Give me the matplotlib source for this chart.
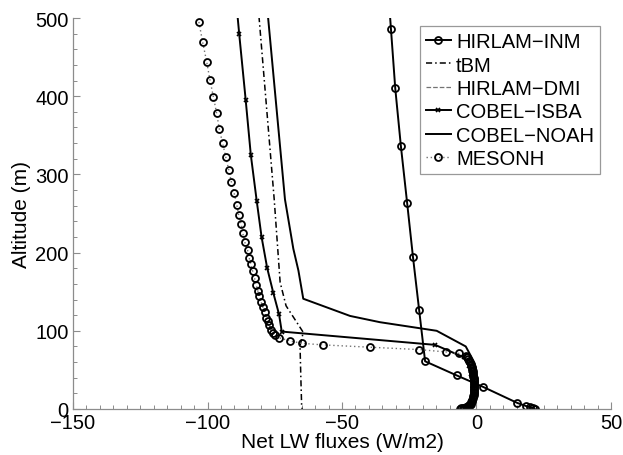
import matplotlib
matplotlib.use("Agg")
import matplotlib.pyplot as plt
from matplotlib.ticker import MultipleLocator

plt.rcParams['font.family'] = ['Liberation Sans', 'DejaVu Sans']

# ---- profiles: net longwave flux (W/m2) against altitude (m) ----
inm_z = [562, 486, 410, 336, 264, 194, 126, 61, 43, 28.5, 7.7, 3.8, 2.0, 1.0, 0.3]
inm_f = [-33.4, -31.8, -30.2, -28.1, -25.8, -23.6, -21.3, -19.1, -7.4, 2.3, 15.2, 18.4, 20.0, 21.0, 21.6]

tbm_z = [520, 268, 162, 132, 98, 81, 40, 4, 0]
tbm_f = [-81.3, -75.2, -73.0, -70.8, -64.4, -65.6, -65.3, -65.0, -64.8]

dmi_z = []
dmi_f = []

isba_z = [520, 479, 395, 325, 266, 220, 180, 148, 121, 99, 82, 66, 55, 45, 37, 30,
          25, 20, 16, 12, 9, 6, 4, 2, 1, 0.3]
isba_f = [-89.3, -88.2, -85.8, -83.9, -81.7, -79.9, -77.8, -75.5, -73.4, -72.4, -15.4,
          -4.6, -2.6, -1.9, -1.5, -1.3, -1.2, -1.2, -1.3, -1.4, -1.6, -2.0, -2.4,
          -3.0, -3.5, -4.0]

noah_z = [520, 268, 205, 177, 141, 119, 111, 100, 80, 64, 50, 30, 15, 5, 0]
noah_f = [-78.0, -71.2, -68.1, -66.2, -64.4, -47.0, -35.9, -14.8, -4.0, -1.5, -0.8,
          -0.6, -0.9, -1.5, -2.5]

meso_z = [495, 469, 444, 421, 399, 378, 358, 340, 322, 306, 290, 276, 261, 248, 237,
          225, 213, 203, 193, 185, 176, 167, 159, 151, 144, 137, 131, 124, 117, 112,
          107, 101, 97, 94, 91, 87, 84, 82, 79, 76, 73, 71, 68,
          66, 64, 62, 60, 58, 56, 54, 52, 50, 48, 46, 44, 42, 40, 38, 36, 34, 32,
          30, 28, 26, 24, 22, 20, 18, 16, 14, 12, 10, 8.5, 7, 5.5, 4.5, 3.5, 2.5,
          1.8, 1.2, 0.7, 0.3]
meso_f = [-103.2, -101.8, -100.3, -99.1, -97.8, -96.6, -95.6, -94.4, -93.2, -92.1,
          -91.1, -90.1, -89.1, -88.4, -87.5, -86.9, -86.1, -85.1, -84.5, -83.9,
          -83.2, -82.5, -81.9, -81.3, -80.7, -80.1, -79.5, -78.7, -78.3, -77.6,
          -77.0, -76.4, -75.8, -74.9, -73.3, -69.3, -65.0, -57.2, -39.6, -21.4,
          -11.5, -6.5, -3.9,
          -3.4, -3.0, -2.7, -2.4, -2.2, -2.0, -1.8, -1.6, -1.5, -1.4, -1.3, -1.2,
          -1.2, -1.1, -1.1, -1.0, -1.0, -1.0, -1.0, -1.0, -1.0, -1.0, -1.0, -1.1,
          -1.1, -1.2, -1.3, -1.5, -1.7, -1.9, -2.2, -2.5, -2.9, -3.3, -3.9, -4.5,
          -5.1, -5.7, -6.2]

labels = ["HIRLAM\u2212INM", "tBM", "HIRLAM\u2212DMI", "COBEL\u2212ISBA",
          "COBEL\u2212NOAH", "MESONH"]

fig = plt.figure(figsize=(6.23, 4.56), dpi=100)
ax = fig.add_axes([0.1172, 0.1009, 0.8635, 0.8574])

ax.plot(inm_f, inm_z, color='k', lw=1.4, marker='o', ms=5, mfc='none', mew=1.3,
        label=labels[0])
ax.plot(tbm_f, tbm_z, color='k', lw=1.1, dashes=(4, 2, 1, 2), label=labels[1])
ax.plot(dmi_f, dmi_z, color='0.45', lw=0.9, linestyle='--', label=labels[2])
ax.plot(isba_f, isba_z, color='k', lw=1.4, marker='x', ms=3, mew=1.2, label=labels[3])
ax.plot(noah_f, noah_z, color='k', lw=1.4, label=labels[4])
ax.plot(meso_f, meso_z, color='0.45', lw=1.0, linestyle=(0, (1, 2)), marker='o', ms=5,
        mfc='none', mec='k', mew=1.3, label=labels[5])

ax.set_xlim(-150, 50)
ax.set_ylim(0, 500)
ax.xaxis.set_major_locator(MultipleLocator(50))
ax.xaxis.set_minor_locator(MultipleLocator(5))
ax.yaxis.set_major_locator(MultipleLocator(100))
ax.yaxis.set_minor_locator(MultipleLocator(20))

for side in ('top', 'right'):
    ax.spines[side].set_visible(False)
for side in ('left', 'bottom'):
    ax.spines[side].set_color('0.55')
    ax.spines[side].set_linewidth(0.9)

ax.tick_params(which='both', direction='in', colors='0.55', labelcolor='k',
               labelsize=14.5, pad=3)
ax.tick_params(which='major', length=5, width=0.8)
ax.tick_params(which='minor', length=3, width=0.7)

ax.set_xlabel("Net LW fluxes (W/m2)", fontsize=15, labelpad=0)
ax.set_ylabel("Altitude (m)", fontsize=15, labelpad=3)

leg = ax.legend(loc='upper right', bbox_to_anchor=(0.9796, 0.9795), borderaxespad=0,
                fontsize=14.5, handlelength=1.25, handletextpad=0.25, borderpad=0.3,
                labelspacing=0.22, fancybox=False, framealpha=1)
leg.get_frame().set_edgecolor('0.6')
leg.get_frame().set_linewidth(0.9)

fig.savefig("out.png", dpi=100)
